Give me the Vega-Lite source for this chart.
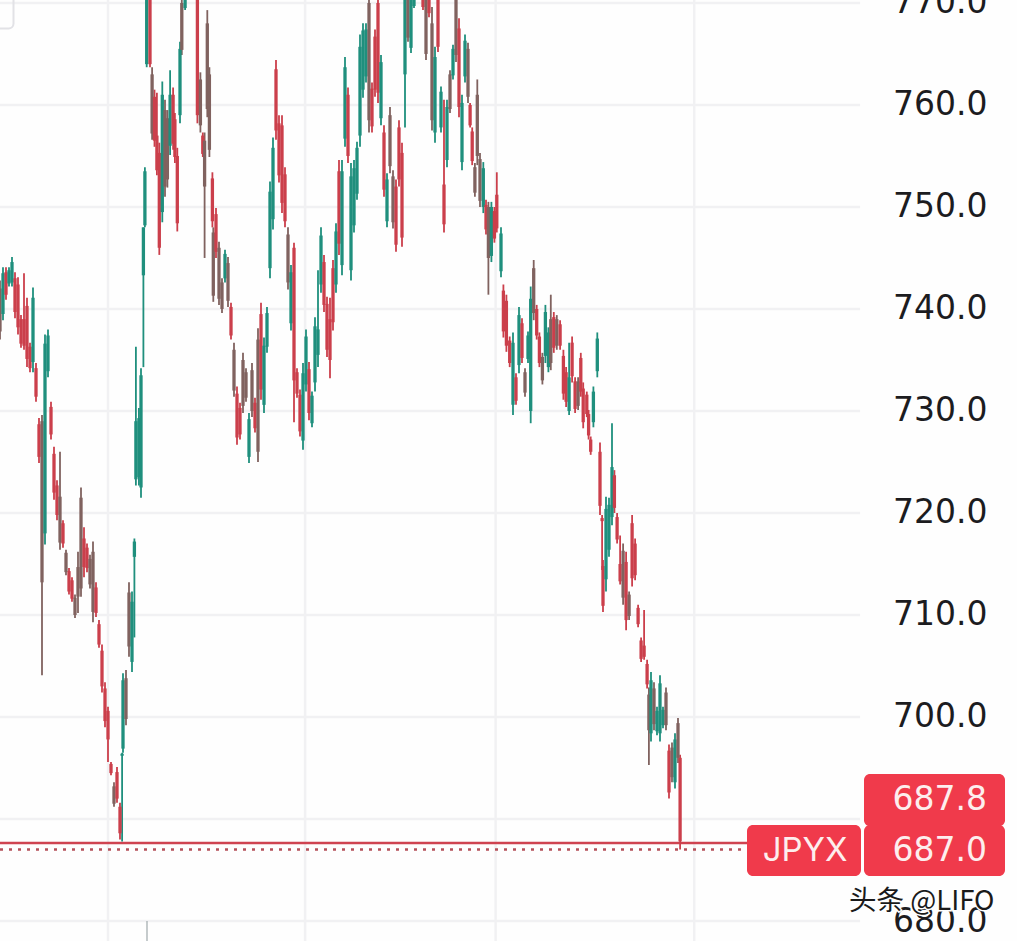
{"$schema":"https://vega.github.io/schema/vega-lite/v6.json","width":1017,"height":941,"padding":0,"autosize":{"type":"none"},"background":"#fefefe","view":{"stroke":null},
"datasets":{
"hgrid":[{"v":680},{"v":690},{"v":700},{"v":710},{"v":720},{"v":730},{"v":740},{"v":750},{"v":760},{"v":770}],
"vgrid":[{"t":36},{"t":101.7},{"t":165.2},{"t":231.4}],
"bars":[
{"t":0,"h":742.8,"l":737,"c":742,"o":737.8,"s":"m"},{"t":1,"h":744.1,"l":738.9,"c":743.5,"o":739.5,"s":"u"},{"t":2,"h":744.1,"l":740.9,"o":743.6,"c":741.4,"s":"d"},{"t":3,"h":744.1,"l":742.2,"c":743.8,"o":742.5,"s":"u"},{"t":4,"h":745.1,"l":742.2,"c":744.6,"o":742.6,"s":"u"},{"t":5,"h":743.6,"l":739.1,"o":743,"c":739.7,"s":"d"},{"t":6,"h":743.1,"l":737.5,"o":742.4,"c":738.2,"s":"d"},{"t":7,"h":739.4,"l":736.2,"o":739,"c":736.6,"s":"d"},{"t":8,"h":743.5,"l":736,"o":739,"c":736.4,"s":"d"},{"t":9,"h":741.1,"l":734.3,"o":740.3,"c":735.1,"s":"d"},{"t":10,"h":736.7,"l":733.8,"o":736.3,"c":734.2,"s":"d"},{"t":11,"h":742.1,"l":733.8,"c":741.1,"o":734.8,"s":"u"},{"t":12,"h":734.7,"l":730.9,"o":734.2,"c":731.4,"s":"d"},{"t":13,"h":729.3,"l":724.9,"o":728.7,"c":725.5,"s":"d"},{"t":14,"h":729.6,"l":704.1,"c":729,"o":713.2,"s":"m"},{"t":15,"h":737.5,"l":716.9,"c":736.6,"o":718,"s":"u"},{"t":16,"h":738,"l":733.3,"c":737.4,"o":733.9,"s":"u"},{"t":17,"h":730.9,"l":727.2,"o":730.4,"c":727.7,"s":"d"},{"t":18,"h":726.5,"l":721.3,"o":725.8,"c":722,"s":"d"},{"t":19,"h":723.2,"l":719.3,"o":722.7,"c":719.8,"s":"d"},{"t":20,"h":726,"l":716.4,"o":721.6,"c":717.1,"s":"m"},{"t":21,"h":719.3,"l":716.6,"o":719,"c":717,"s":"d"},{"t":22,"h":716.4,"l":713.9,"o":716.1,"c":714.2,"s":"m"},{"t":23,"h":714.6,"l":712,"o":714.3,"c":712.3,"s":"d"},{"t":24,"h":713.7,"l":711.3,"o":713.4,"c":711.6,"s":"d"},{"t":25,"h":712,"l":709.7,"o":711.7,"c":710,"s":"m"},{"t":26,"h":716.2,"l":710.2,"o":714.7,"c":711.8,"s":"m"},{"t":27,"h":722.5,"l":711.8,"o":721.5,"c":712.6,"s":"m"},{"t":28,"h":718.6,"l":713.7,"o":717.5,"c":714.7,"s":"d"},{"t":29,"h":717,"l":714.2,"o":716.6,"c":714.6,"s":"d"},{"t":30,"h":715.9,"l":712.6,"o":715.5,"c":713,"s":"m"},{"t":31,"h":717.2,"l":709.3,"o":716.2,"c":710.3,"s":"m"},{"t":32,"h":713.2,"l":709.8,"o":712.7,"c":710.2,"s":"d"},{"t":33,"h":709.5,"l":706.8,"o":709.1,"c":707.1,"s":"d"},{"t":34,"h":707.1,"l":702.4,"o":706.5,"c":703,"s":"d"},{"t":35,"h":703.4,"l":699,"o":702.8,"c":699.6,"s":"d"},{"t":36,"h":701,"l":695.6,"o":700.6,"c":697.8,"s":"d"},{"t":37,"h":695.6,"l":694.3,"o":695.4,"c":694.5,"s":"d"},{"t":38,"h":693.6,"l":691.2,"o":693.2,"c":691.5,"s":"m"},{"t":39,"h":695.1,"l":691.6,"o":694.6,"c":692,"s":"d"},{"t":40,"h":691.6,"l":688,"o":691.2,"c":688.6,"s":"d"},{"t":40.7,"h":696.5,"l":687.8,"c":696.4,"o":696.2,"s":"u"},{"t":41,"h":704.3,"l":696.5,"c":703.6,"o":696.9,"s":"u"},{"t":42,"h":704.6,"l":699.2,"c":703.8,"o":699.8,"s":"m"},{"t":43,"h":713.2,"l":705.9,"o":712.2,"c":706.9,"s":"m"},{"t":44,"h":712.3,"l":704.4,"c":711.3,"o":705.4,"s":"u"},{"t":44.8,"h":717.5,"l":707.8,"c":717.2,"o":715.7,"s":"u"},{"t":45.3,"h":736.3,"l":722.7,"c":729,"o":723.3,"s":"u"},{"t":46.3,"h":730.3,"l":722.7,"c":729.3,"o":723.5,"s":"u"},{"t":47,"h":734.2,"l":721.5,"c":733.5,"o":722.5,"s":"u"},{"t":47.8,"h":748,"l":734.3,"c":748,"o":743.3,"s":"u"},{"t":48.3,"h":753.9,"l":748,"c":753.5,"o":748.2,"s":"u"},{"t":48.9,"h":770.3,"l":763.7,"c":770.3,"o":764,"s":"u"},{"t":50,"h":770.3,"l":763.7,"o":770.3,"c":764,"s":"d"},{"t":50.7,"h":763.7,"l":756.6,"o":763,"c":757.2,"s":"m"},{"t":51.5,"h":761.5,"l":755.9,"o":760.8,"c":756.5,"s":"d"},{"t":52.3,"h":761.2,"l":753.1,"o":757,"c":753.6,"s":"d"},{"t":53.1,"h":756.3,"l":745.3,"o":755.3,"c":746,"s":"d"},{"t":54.1,"h":762.3,"l":748.5,"c":761,"o":749.5,"s":"u"},{"t":55,"h":760.5,"l":751,"c":759.5,"o":752,"s":"m"},{"t":55.8,"h":759.5,"l":751.9,"c":758.7,"o":752.7,"s":"m"},{"t":56.7,"h":763.4,"l":755.1,"c":761,"o":756,"s":"u"},{"t":57.7,"h":761.7,"l":755.6,"o":761,"c":756.2,"s":"d"},{"t":58.3,"h":759.2,"l":754.3,"o":758.6,"c":754.9,"s":"d"},{"t":59.1,"h":755.8,"l":747.6,"o":755,"c":748.4,"s":"d"},{"t":60,"h":766.2,"l":758.2,"c":765.5,"o":759,"s":"u"},{"t":60.6,"h":770.3,"l":764.9,"c":770,"o":765.4,"s":"m"},{"t":61.7,"h":770.3,"l":769.3,"c":770.3,"o":769.5,"s":"u"},{"t":65.8,"h":770.3,"l":758.2,"o":770.3,"c":759,"s":"d"},{"t":66.8,"h":763.2,"l":757.3,"o":762.5,"c":758,"s":"m"},{"t":67.6,"h":757.3,"l":754.9,"o":757,"c":755.2,"s":"d"},{"t":68.2,"h":757.3,"l":745,"o":756.5,"c":752,"s":"m"},{"t":69.1,"h":769.3,"l":758.8,"o":768,"c":759.6,"s":"m"},{"t":69.8,"h":763.7,"l":754.9,"o":763,"c":755.6,"s":"m"},{"t":70.8,"h":753.4,"l":748,"o":752.8,"c":748.6,"s":"d"},{"t":71.1,"h":748,"l":740.7,"o":747.5,"c":741.3,"s":"m"},{"t":72,"h":749.9,"l":745,"o":749.3,"c":745.6,"s":"d"},{"t":73,"h":746.6,"l":740.4,"c":746,"o":741,"s":"m"},{"t":74,"h":743,"l":739.6,"o":742.6,"c":740,"s":"m"},{"t":75,"h":745.8,"l":742.6,"c":745.4,"o":743,"s":"u"},{"t":76,"h":745.1,"l":740.2,"o":744.5,"c":740.8,"s":"m"},{"t":77,"h":740.6,"l":737,"o":740.2,"c":737.4,"s":"d"},{"t":78,"h":736.7,"l":731.4,"o":736,"c":732,"s":"m"},{"t":79,"h":732.4,"l":726.7,"o":731.7,"c":727.4,"s":"d"},{"t":80,"h":730.8,"l":727.2,"o":730.3,"c":727.7,"s":"d"},{"t":81,"h":735.7,"l":729.8,"o":735,"c":730.5,"s":"m"},{"t":82,"h":734.2,"l":730.9,"o":733.8,"c":731.3,"s":"m"},{"t":83,"h":729.8,"l":724.9,"c":729.2,"o":725.5,"s":"u"},{"t":84,"h":734.7,"l":729.4,"o":734,"c":730,"s":"m"},{"t":85,"h":731.3,"l":727.9,"o":730.8,"c":728.3,"s":"d"},{"t":86,"h":738.1,"l":725,"o":737,"c":726,"s":"m"},{"t":87,"h":740.6,"l":731.1,"o":739.5,"c":732.1,"s":"d"},{"t":88,"h":737.2,"l":729.8,"c":736.4,"o":730.6,"s":"u"},{"t":89,"h":740.2,"l":735.7,"c":739.6,"o":736.3,"s":"u"},{"t":90,"h":752.5,"l":743,"c":751.5,"o":744,"s":"u"},{"t":91,"h":756.8,"l":747.8,"c":755.8,"o":748.8,"s":"u"},{"t":92,"h":764.4,"l":756.6,"o":763.5,"c":757.5,"s":"d"},{"t":93,"h":759,"l":752.4,"o":758.2,"c":753.1,"s":"d"},{"t":94,"h":759,"l":749.4,"o":758,"c":750.4,"s":"d"},{"t":95,"h":753.9,"l":748,"o":753.2,"c":748.6,"s":"d"},{"t":96,"h":748,"l":741.9,"o":747.3,"c":742.6,"s":"m"},{"t":97,"h":744.3,"l":737.9,"c":743.6,"o":738.6,"s":"u"},{"t":98,"h":746.5,"l":728.9,"o":746,"c":733,"s":"d"},{"t":99,"h":734.2,"l":731.3,"o":733.8,"c":731.7,"s":"d"},{"t":100,"h":732.1,"l":727.5,"o":731.6,"c":728,"s":"d"},{"t":101,"h":734.7,"l":726.2,"c":733.7,"o":727.1,"s":"u"},{"t":102,"h":738,"l":731.9,"c":737.3,"o":732.6,"s":"u"},{"t":103,"h":734.8,"l":729.1,"o":734.1,"c":729.8,"s":"d"},{"t":104,"h":731.9,"l":728.4,"c":731.5,"o":728.8,"s":"u"},{"t":105,"h":739.2,"l":731.9,"c":738.3,"o":732.8,"s":"u"},{"t":106,"h":743.8,"l":734.3,"c":738,"o":735.5,"s":"u"},{"t":107,"h":748,"l":741.6,"c":747.2,"o":742.4,"s":"u"},{"t":108,"h":745.3,"l":739.7,"o":744.6,"c":740.4,"s":"d"},{"t":109,"h":741.2,"l":735.3,"o":740.5,"c":736,"s":"d"},{"t":110,"h":741.1,"l":733.2,"o":739,"c":735,"s":"d"},{"t":111,"h":744.8,"l":737.9,"o":744,"c":738.7,"s":"d"},{"t":112,"h":748.4,"l":741.6,"c":747.6,"o":742.4,"s":"u"},{"t":113,"h":754.6,"l":745.3,"o":753.5,"c":746.4,"s":"d"},{"t":114,"h":754.6,"l":743.3,"c":753.5,"o":744.3,"s":"u"},{"t":115,"h":764.7,"l":755.9,"c":763.7,"o":756.7,"s":"u"},{"t":116,"h":761.7,"l":754.3,"o":761,"c":755,"s":"d"},{"t":117,"h":754.3,"l":742.8,"c":753,"o":743.8,"s":"u"},{"t":118,"h":754.6,"l":747.5,"c":753.8,"o":748.2,"s":"u"},{"t":119,"h":756.4,"l":750.7,"c":755.8,"o":751.3,"s":"u"},{"t":120,"h":766.9,"l":755.9,"c":765.7,"o":757,"s":"u"},{"t":121,"h":768,"l":760.7,"c":767.3,"o":761.5,"s":"u"},{"t":122,"h":768,"l":762.2,"c":767.4,"o":762.8,"s":"u"},{"t":123,"h":770.3,"l":757.3,"o":770,"c":758.5,"s":"m"},{"t":124,"h":762.2,"l":757.3,"o":761.6,"c":757.9,"s":"d"},{"t":125,"h":767.4,"l":760.8,"o":766.7,"c":761.5,"s":"d"},{"t":126,"h":770.3,"l":760.2,"o":770,"c":761.2,"s":"d"},{"t":127,"h":764.9,"l":758,"c":764.2,"o":758.7,"s":"u"},{"t":128,"h":758,"l":751,"o":757.3,"c":751.7,"s":"d"},{"t":129,"h":753.3,"l":748,"c":752.7,"o":748.6,"s":"u"},{"t":130,"h":759.8,"l":753.3,"o":759,"c":754,"s":"m"},{"t":131,"h":753.6,"l":747.9,"o":753,"c":748.5,"s":"m"},{"t":132,"h":752.7,"l":745.6,"o":752,"c":746.3,"s":"d"},{"t":133,"h":758.5,"l":752,"o":757.8,"c":752.7,"s":"d"},{"t":134,"h":756.3,"l":746.1,"o":755.3,"c":747,"s":"d"},{"t":135,"h":770.3,"l":757.8,"c":770.3,"o":763,"s":"u"},{"t":136,"h":770.3,"l":766.2,"o":770.3,"c":766.6,"s":"m"},{"t":137,"h":770.3,"l":765.1,"c":770.3,"o":765.6,"s":"u"},{"t":138,"h":770.3,"l":769.5,"c":770.3,"o":769.7,"s":"u"},{"t":141,"h":770.3,"l":769.3,"o":770.3,"c":769.6,"s":"d"},{"t":142,"h":770.3,"l":764.4,"o":770.3,"c":765,"s":"m"},{"t":143,"h":770.3,"l":768.6,"o":770.3,"c":769,"s":"d"},{"t":144,"h":769.6,"l":757.5,"o":768,"c":758.5,"s":"m"},{"t":145,"h":765.7,"l":756.3,"c":764.7,"o":757.3,"s":"u"},{"t":146,"h":770.3,"l":765.2,"o":770.3,"c":765.7,"s":"d"},{"t":147,"h":761.8,"l":757.3,"c":761.3,"o":757.8,"s":"u"},{"t":148,"h":760.5,"l":747.5,"o":752.2,"c":748.3,"s":"d"},{"t":149,"h":760.5,"l":753.9,"c":759.8,"o":754.6,"s":"u"},{"t":150,"h":763.4,"l":759.2,"o":763,"c":759.6,"s":"m"},{"t":151,"h":765.9,"l":762.5,"c":765.5,"o":762.9,"s":"u"},{"t":152,"h":770.3,"l":764.2,"o":770.3,"c":764.9,"s":"m"},{"t":153,"h":768.5,"l":758.8,"o":767.5,"c":759.8,"s":"d"},{"t":154,"h":761,"l":753.6,"c":760.2,"o":754.4,"s":"u"},{"t":155,"h":766.9,"l":762.2,"c":766.3,"o":762.8,"s":"u"},{"t":156,"h":766.1,"l":760.2,"o":765.5,"c":760.8,"s":"m"},{"t":156.7,"h":760.2,"l":757.8,"o":760,"c":758,"s":"d"},{"t":157.4,"h":757.8,"l":754.1,"o":757.4,"c":754.5,"s":"d"},{"t":158.3,"h":754.3,"l":751,"o":753.9,"c":751.4,"s":"m"},{"t":159.1,"h":762.5,"l":754.1,"o":761,"c":755,"s":"m"},{"t":160,"h":755.3,"l":750,"o":754.7,"c":750.6,"s":"m"},{"t":161.1,"h":754.4,"l":749.4,"c":753.8,"o":750,"s":"u"},{"t":162,"h":750.7,"l":747.3,"o":750.2,"c":747.8,"s":"d"},{"t":162.8,"h":750.5,"l":741.4,"o":750,"c":745,"s":"m"},{"t":163.8,"h":750.5,"l":744.6,"c":750,"o":745.2,"s":"u"},{"t":164.8,"h":750,"l":746.5,"o":749.6,"c":746.9,"s":"d"},{"t":165.6,"h":753.4,"l":747.5,"o":751.2,"c":747.9,"s":"d"},{"t":167,"h":748,"l":743.1,"c":747.4,"o":743.7,"s":"u"},{"t":167.8,"h":742.4,"l":737.2,"o":741.8,"c":737.8,"s":"d"},{"t":168.8,"h":741.4,"l":735.8,"o":740.8,"c":736.4,"s":"d"},{"t":169.9,"h":737.3,"l":734.3,"o":736.9,"c":734.7,"s":"d"},{"t":171,"h":737.7,"l":729.6,"c":736.7,"o":730.6,"s":"u"},{"t":172,"h":733.7,"l":730.6,"o":733.3,"c":731,"s":"d"},{"t":173,"h":740.2,"l":733.7,"c":739.4,"o":734.5,"s":"u"},{"t":174,"h":739.1,"l":734.7,"o":738.6,"c":735.2,"s":"d"},{"t":175,"h":734.2,"l":731.4,"o":733.8,"c":731.8,"s":"m"},{"t":176,"h":737.8,"l":734.7,"c":737.4,"o":735.1,"s":"u"},{"t":176.9,"h":742.2,"l":728.8,"c":741,"o":730,"s":"u"},{"t":177.9,"h":744.8,"l":738.9,"o":744,"c":739.6,"s":"m"},{"t":178.9,"h":740.4,"l":737,"o":740,"c":737.4,"s":"d"},{"t":179.8,"h":737.7,"l":734.3,"o":737.3,"c":734.7,"s":"d"},{"t":180.8,"h":735.7,"l":732.6,"o":735.3,"c":733,"s":"m"},{"t":181.8,"h":740.4,"l":734.7,"c":739.7,"o":735.4,"s":"u"},{"t":182.8,"h":738.2,"l":733.8,"c":737.7,"o":734.3,"s":"u"},{"t":183.6,"h":741.4,"l":734,"o":739,"c":734.7,"s":"m"},{"t":184.6,"h":739.7,"l":735.7,"o":739.2,"c":736.2,"s":"d"},{"t":185.6,"h":739.4,"l":736,"o":739,"c":736.4,"s":"m"},{"t":186.7,"h":738.9,"l":736,"o":738.5,"c":736.4,"s":"d"},{"t":187.8,"h":736,"l":731.1,"o":735.4,"c":731.7,"s":"d"},{"t":188.7,"h":734.3,"l":730.4,"o":733.8,"c":730.9,"s":"d"},{"t":189.7,"h":736.7,"l":729.6,"c":733.3,"o":730,"s":"u"},{"t":190.7,"h":737.3,"l":732.8,"o":736.7,"c":733.4,"s":"d"},{"t":191.7,"h":733.3,"l":729.8,"o":732.9,"c":730.2,"s":"d"},{"t":192.7,"h":733.3,"l":730.1,"o":732.9,"c":730.5,"s":"m"},{"t":193.6,"h":735.7,"l":731.4,"o":735.2,"c":731.9,"s":"d"},{"t":194.4,"h":732.8,"l":728.3,"o":732.2,"c":728.9,"s":"d"},{"t":195.6,"h":731.9,"l":729.4,"o":731.6,"c":729.7,"s":"d"},{"t":196.2,"h":730.1,"l":727.2,"o":729.7,"c":727.6,"s":"d"},{"t":196.9,"h":727.5,"l":725.7,"o":727.2,"c":726,"s":"d"},{"t":197.8,"h":732.4,"l":728.4,"c":731.9,"o":728.9,"s":"u"},{"t":199.1,"h":737.7,"l":733.3,"c":737.1,"o":733.9,"s":"u"},{"t":200,"h":726.9,"l":719.8,"o":726,"c":720.7,"s":"d"},{"t":200.7,"h":719.8,"l":714.4,"o":719.5,"c":719.2,"s":"d"},{"t":201,"h":715.4,"l":710.3,"o":714.8,"c":710.9,"s":"d"},{"t":202,"h":721.6,"l":712.3,"c":720.4,"o":713.5,"s":"u"},{"t":203,"h":721.5,"l":715.7,"c":720.8,"o":716.4,"s":"u"},{"t":204,"h":728.8,"l":718.8,"c":724.5,"o":719.6,"s":"u"},{"t":204.8,"h":724.2,"l":720,"o":723.7,"c":720.5,"s":"d"},{"t":205.7,"h":720,"l":717,"o":719.6,"c":717.4,"s":"d"},{"t":206.7,"h":717.8,"l":713,"o":715,"c":713.3,"s":"d"},{"t":207.7,"h":717,"l":711,"c":716.3,"o":711.7,"s":"m"},{"t":208.7,"h":716.2,"l":708.5,"o":715.2,"c":709.5,"s":"d"},{"t":209.7,"h":712.3,"l":709.5,"o":712,"c":709.9,"s":"m"},{"t":210.7,"h":719.8,"l":712.8,"o":719,"c":713.6,"s":"d"},{"t":211.7,"h":717.5,"l":713.4,"o":717,"c":713.9,"s":"d"},{"t":212.7,"h":711,"l":708.8,"o":710.7,"c":709.1,"s":"d"},{"t":213.7,"h":707.8,"l":705.4,"o":707.5,"c":705.7,"s":"d"},{"t":214.7,"h":710.5,"l":705.6,"o":707,"c":705.9,"s":"d"},{"t":215.7,"h":705.6,"l":702.8,"o":705.2,"c":703.2,"s":"d"},{"t":216.3,"h":702.9,"l":695.3,"o":702.2,"c":698.7,"s":"m"},{"t":217,"h":704.4,"l":697.6,"c":703.6,"o":698.4,"s":"u"},{"t":218,"h":703.4,"l":698.7,"o":702.8,"c":699.3,"s":"m"},{"t":219,"h":701,"l":698.2,"c":700.6,"o":698.6,"s":"u"},{"t":220,"h":704.1,"l":697.6,"c":703.3,"o":698.4,"s":"u"},{"t":221,"h":701,"l":698.9,"c":700.7,"o":699.2,"s":"u"},{"t":222,"h":702.9,"l":698.7,"o":702.4,"c":699.2,"s":"m"},{"t":223,"h":697.3,"l":692,"o":696.7,"c":692.6,"s":"d"},{"t":224,"h":697.5,"l":693.6,"c":697,"o":694.1,"s":"m"},{"t":225,"h":698.4,"l":693,"c":697.8,"o":693.6,"s":"u"},{"t":226,"h":699.9,"l":695.5,"o":699.4,"c":696,"s":"m"},{"t":226.7,"h":696.3,"l":687,"o":696,"c":687.8,"s":"d"}
],
"tags":[{"a":288,"b":335,"top":694.4,"bot":689.3},{"a":249,"b":287,"top":689.4,"bot":684.4},{"a":288,"b":335,"top":689.4,"bot":684.4}],
"tagNum":[{"t":329,"v":691.9,"label":"687.8"},{"t":329,"v":686.9,"label":"687.0"}],
"tagName":[{"t":282.5,"v":686.9,"label":"JPYX"}]
},
"layer":[
{"data":{"name":"hgrid"},"mark":{"type":"rule","stroke":"#f1f1f3","strokeWidth":2.5},
 "encoding":{"y":{"field":"v","type":"quantitative","scale":{"domain":[678.04,770.29],"nice":false,"zero":false},
  "axis":{"orient":"right","values":[680,700,710,720,730,740,750,760,770],"format":".1f","domain":false,"ticks":false,"grid":false,"title":null,"labelAlign":"right","labelBaseline":"middle","labelPadding":-30,"labelFont":"DejaVu Sans","labelFontSize":33,"labelColor":"#1c1c1f","labelFlush":false,"labelBound":false,"labelOverlap":false}},
  "x":{"datum":0,"type":"quantitative","scale":{"domain":[0,339],"nice":false,"zero":false,"padding":0},"axis":null},"x2":{"datum":286.7}}},
{"data":{"name":"vgrid"},"mark":{"type":"rule","stroke":"#f1f1f3","strokeWidth":2.5},"encoding":{"x":{"field":"t","type":"quantitative"}}},
{"data":{"values":[{"a":-5,"b":4.5,"top":775,"bot":767.5}]},"mark":{"type":"rect","clip":true,"fillOpacity":0,"stroke":"#e2e2e6","strokeWidth":2,"cornerRadius":5},"encoding":{"x":{"field":"a","type":"quantitative"},"x2":{"field":"b"},"y":{"field":"top","type":"quantitative"},"y2":{"field":"bot"}}},
{"data":{"values":[{"t":49,"a":680,"b":678.04}]},"mark":{"type":"rule","stroke":"#9fa8ab","strokeWidth":1.2},"encoding":{"x":{"field":"t","type":"quantitative"},"y":{"field":"a","type":"quantitative"},"y2":{"field":"b"}}},
{"data":{"values":[{"a":0,"b":250,"v":687.65}]},"mark":{"type":"rule","stroke":"#cf4350","strokeWidth":2.5},"encoding":{"x":{"field":"a","type":"quantitative"},"x2":{"field":"b"},"y":{"field":"v","type":"quantitative"}}},
{"data":{"values":[{"a":0,"b":250,"v":687}]},"mark":{"type":"rule","stroke":"#b5505a","strokeWidth":2.5,"strokeDash":[3,6]},"encoding":{"x":{"field":"a","type":"quantitative"},"x2":{"field":"b"},"y":{"field":"v","type":"quantitative"}}},
{"data":{"name":"bars"},"mark":{"type":"rule","strokeWidth":1.8,"clip":true},"encoding":{"x":{"field":"t","type":"quantitative"},"y":{"field":"h","type":"quantitative"},"y2":{"field":"l"},"color":{"field":"s","type":"nominal","scale":{"domain":["u","d","m"],"range":["#1f8f7d","#cb3f4b","#80625f"]},"legend":null}}},
{"data":{"name":"bars"},"mark":{"type":"bar","size":3.3,"clip":true},"encoding":{"x":{"field":"t","type":"quantitative"},"y":{"field":"o","type":"quantitative"},"y2":{"field":"c"},"color":{"field":"s","type":"nominal","legend":null}}},
{"data":{"name":"tags"},"mark":{"type":"rect","fill":"#f03a4b","cornerRadius":6},"encoding":{"x":{"field":"a","type":"quantitative"},"x2":{"field":"b"},"y":{"field":"top","type":"quantitative"},"y2":{"field":"bot"}}},
{"data":{"name":"tagNum"},"mark":{"type":"text","align":"right","baseline":"middle","font":"DejaVu Sans","fontSize":33,"fill":"#fdeeee"},"encoding":{"x":{"field":"t","type":"quantitative"},"y":{"field":"v","type":"quantitative"},"text":{"field":"label"}}},
{"data":{"name":"tagName"},"mark":{"type":"text","align":"right","baseline":"middle","font":"Inter","fontSize":33,"fill":"#fdeeee"},"encoding":{"x":{"field":"t","type":"quantitative"},"y":{"field":"v","type":"quantitative"},"text":{"field":"label"}}},
{"data":{"values":[{"t":331.5,"v":681.9,"label":"头条 @LIFO"}]},"mark":{"type":"text","align":"right","baseline":"middle","font":"Noto Sans CJK SC","fontSize":27.5,"stroke":"#ffffff","strokeWidth":3},"encoding":{"x":{"field":"t","type":"quantitative"},"y":{"field":"v","type":"quantitative"},"text":{"field":"label"}}},
{"data":{"values":[{"t":331.5,"v":681.9,"label":"头条 @LIFO"}]},"mark":{"type":"text","align":"right","baseline":"middle","font":"Noto Sans CJK SC","fontSize":27.5,"fill":"#1a1a1a"},"encoding":{"x":{"field":"t","type":"quantitative"},"y":{"field":"v","type":"quantitative"},"text":{"field":"label"}}}
]}
